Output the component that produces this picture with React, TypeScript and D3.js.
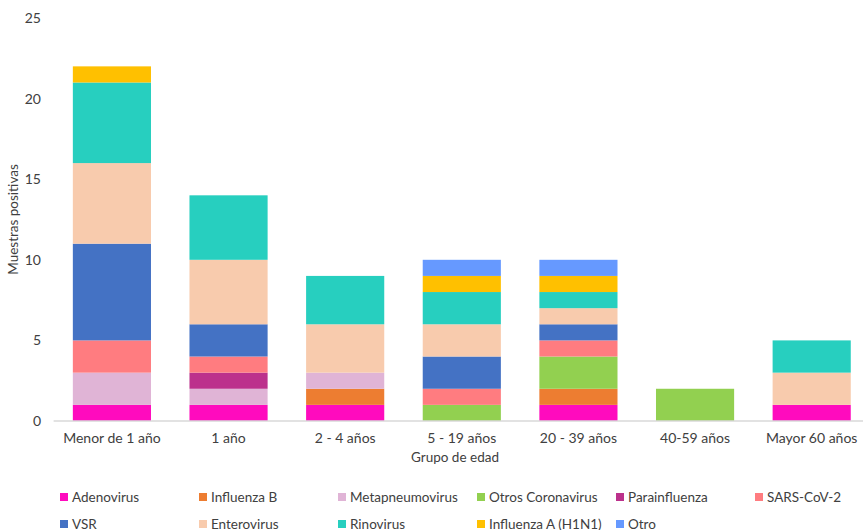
import React from "react";
import * as d3 from "d3";

const categories = ["Menor de 1 año", "1 año", "2 - 4 años", "5 - 19 años", "20 - 39 años", "40-59 años", "Mayor 60 años"];
const seriesNames = ["Adenovirus", "Influenza B", "Metapneumovirus", "Otros Coronavirus", "Parainfluenza", "SARS-CoV-2", "VSR", "Enterovirus", "Rinovirus", "Influenza A (H1N1)", "Otro"];
const colors = ["#FF0BBE", "#ED7D31", "#E0B4D6", "#92D050", "#BC318C", "#FF7C80", "#4472C4", "#F8CBAD", "#27CFBF", "#FFC000", "#6699FF"];

const adenovirus = [1, 1, 1, 0, 1, 0, 1];
const influenzaB = [0, 0, 1, 0, 1, 0, 0];
const metapneumovirus = [2, 1, 1, 0, 0, 0, 0];
const otrosCoronavirus = [0, 0, 0, 1, 2, 2, 0];
const parainfluenza = [0, 1, 0, 0, 0, 0, 0];
const sarsCov2 = [2, 1, 0, 1, 1, 0, 0];
const vsr = [6, 2, 0, 2, 1, 0, 0];
const enterovirus = [5, 4, 3, 2, 1, 0, 2];
const rinovirus = [5, 4, 3, 2, 1, 0, 2];
const influenzaA = [1, 0, 0, 1, 1, 0, 0];
const otro = [0, 0, 0, 1, 1, 0, 0];

const yTicks = [0, 5, 10, 15, 20, 25];

const seriesValues = [adenovirus, influenzaB, metapneumovirus, otrosCoronavirus, parainfluenza, sarsCov2, vsr, enterovirus, rinovirus, influenzaA, otro];

const legendRows = [
  ["Adenovirus", "Influenza B", "Metapneumovirus", "Otros Coronavirus", "Parainfluenza", "SARS-CoV-2"],
  ["VSR", "Enterovirus", "Rinovirus", "Influenza A (H1N1)", "Otro"],
];

export default function App() {
  const W = 863, H = 530;
  const left = 53.6, right = 870, top = 18, bottom = 421;
  const font = "Lato, 'Open Sans', sans-serif";
  const textColor = "#404040";

  const table = categories.map((c, i) => {
    const row: any = { cat: c };
    seriesNames.forEach((s, j) => (row[s] = seriesValues[j][i]));
    return row;
  });
  const stacked = d3.stack<any>().keys(seriesNames)(table);

  const x = d3.scaleBand().domain(categories).range([left, right]).paddingInner(0.33).paddingOuter(0.165);
  const y = d3.scaleLinear().domain([0, 25]).range([bottom, top]);

  return (
    <svg width={W} height={H} style={{ position: "absolute", left: 0, top: 0, background: "#fff" }}>
      {stacked.map((layer, j) => (
        <g key={layer.key} fill={colors[j]}>
          {layer.map((d, i) =>
            d[1] - d[0] > 0 ? (
              <rect key={i} x={x(categories[i])!} width={x.bandwidth()} y={y(d[1])} height={y(d[0]) - y(d[1])} />
            ) : null
          )}
        </g>
      ))}
      <line x1={left} x2={right} y1={y(0)} y2={y(0)} stroke="#D9D9D9" strokeWidth={1.3} />
      {yTicks.map((t) => (
        <text key={t} x={41} y={y(t)} dy="0.35em" textAnchor="end" fontFamily={font} fontSize={14} fill={textColor}>
          {t}
        </text>
      ))}
      {categories.map((c) => (
        <text key={c} x={x(c)! + x.bandwidth() / 2} y={443} textAnchor="middle" fontFamily={font} fontSize={14} fill={textColor}>
          {c}
        </text>
      ))}
      <text x={455} y={462} textAnchor="middle" fontFamily={font} fontSize={13.5} fill={textColor}>
        Grupo de edad
      </text>
      <text transform={`translate(18, ${(top + bottom) / 2}) rotate(-90)`} textAnchor="middle" fontFamily={font} fontSize={13.5} fill={textColor}>
        Muestras positivas
      </text>
      {legendRows.map((row, r) =>
        row.map((name, k) => {
          const idx = seriesNames.indexOf(name);
          const lx = 60 + k * 139;
          const ly = 497 + r * 27;
          return (
            <g key={name}>
              <rect x={lx} y={ly - 4} width={8} height={8} fill={colors[idx]} />
              <text x={lx + 12} y={ly} dy="0.35em" fontFamily={font} fontSize={13.5} fill={textColor}>
                {name}
              </text>
            </g>
          );
        })
      )}
    </svg>
  );
}
